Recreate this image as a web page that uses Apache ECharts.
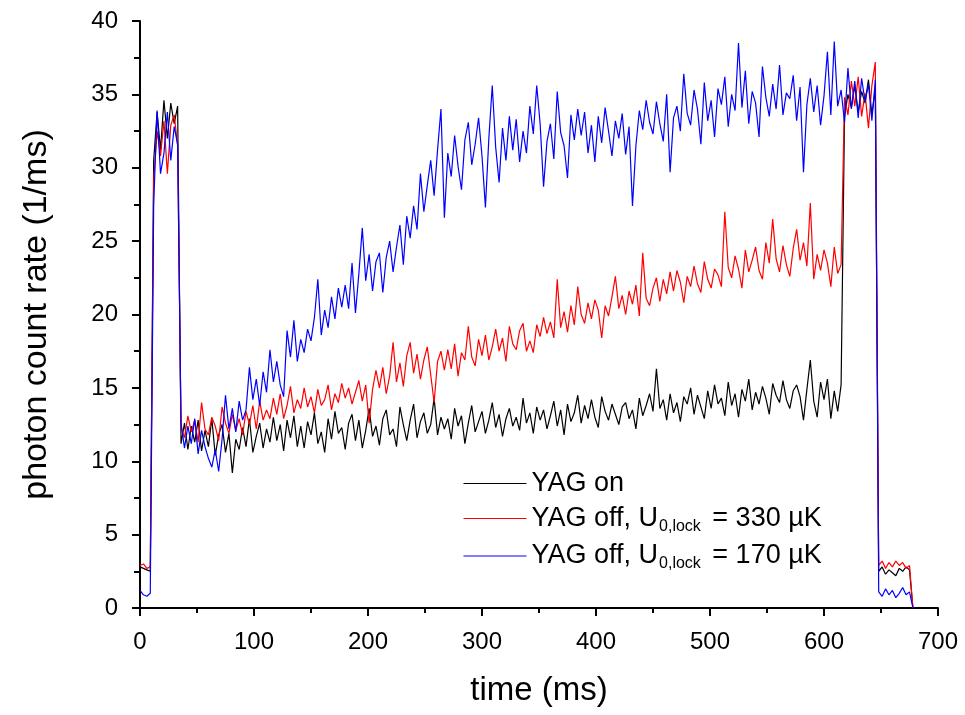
<!DOCTYPE html>
<html>
<head>
<meta charset="utf-8">
<script src="https://cdn.jsdelivr.net/npm/echarts@6/dist/echarts.min.js"></script>
<style>
  html, body { margin: 0; background: #fff; }
  #chart { width: 965px; height: 715px; }
</style>
</head>
<body>
<div id="chart"></div>
<script>
// sample times (ms)
const time = [
  0, 3, 6, 9, 12, 15, 18, 21, 24, 27,
  30, 33, 36, 39, 42, 45, 48, 51, 54, 57,
  60, 63, 66, 69, 72, 75, 78, 81, 84, 87,
  90, 93, 96, 99, 102, 105, 108, 111, 114, 117,
  120, 123, 126, 129, 132, 135, 138, 141, 144, 147,
  150, 153, 156, 159, 162, 165, 168, 171, 174, 177,
  180, 183, 186, 189, 192, 195, 198, 201, 204, 207,
  210, 213, 216, 219, 222, 225, 228, 231, 234, 237,
  240, 243, 246, 249, 252, 255, 258, 261, 264, 267,
  270, 273, 276, 279, 282, 285, 288, 291, 294, 297,
  300, 303, 306, 309, 312, 315, 318, 321, 324, 327,
  330, 333, 336, 339, 342, 345, 348, 351, 354, 357,
  360, 363, 366, 369, 372, 375, 378, 381, 384, 387,
  390, 393, 396, 399, 402, 405, 408, 411, 414, 417,
  420, 423, 426, 429, 432, 435, 438, 441, 444, 447,
  450, 453, 456, 459, 462, 465, 468, 471, 474, 477,
  480, 483, 486, 489, 492, 495, 498, 501, 504, 507,
  510, 513, 516, 519, 522, 525, 528, 531, 534, 537,
  540, 543, 546, 549, 552, 555, 558, 561, 564, 567,
  570, 573, 576, 579, 582, 585, 588, 591, 594, 597,
  600, 603, 606, 609, 612, 615, 618, 621, 624, 627,
  630, 633, 636, 639, 642, 645, 648, 651, 654, 657,
  660, 663, 666, 669, 672, 675, 678
];

// YAG on (black)
const yagOn = [
  2.8, 2.7, 2.6, 2.5, 30.5, 33.8, 31.2, 34.6, 32.0, 34.4,
  33.0, 34.2, 11.2, 12.6, 10.8, 12.4, 11.3, 12.8, 10.7, 12.1,
  11.0, 12.9, 10.4, 11.8, 12.5, 10.6, 11.9, 9.2, 11.5, 10.8,
  12.3, 11.0, 12.9, 10.6, 11.7, 12.6, 10.9, 12.2, 11.3, 13.0,
  11.4, 12.5, 10.7, 12.8, 11.6, 13.1, 11.0, 12.4, 10.9, 12.7,
  11.8, 13.3, 11.2, 12.0, 10.6, 12.9, 11.5, 13.4, 11.9, 12.3,
  10.8, 12.6, 13.2, 11.4, 12.8, 10.9, 12.1, 13.6, 11.7, 12.4,
  11.1, 12.9, 13.5, 11.8, 12.2, 11.0, 13.7, 12.5, 11.4, 12.8,
  13.9, 11.6, 12.7, 13.3, 11.9, 12.5, 14.3, 11.8, 13.0, 12.2,
  12.9, 11.5, 13.6, 12.4, 13.1, 11.2, 12.6, 13.8, 12.0, 12.7,
  13.4, 11.9, 12.8, 14.0, 12.3, 13.2, 11.7, 12.9, 13.6, 12.4,
  13.0, 12.1, 14.3, 12.6, 13.3, 11.9, 13.7, 12.8, 13.5, 12.2,
  13.1, 14.1, 12.4, 13.5, 11.8, 13.9, 12.7, 13.3, 14.5, 12.6,
  13.8, 12.9, 14.2, 13.0, 12.3, 14.4, 13.4, 12.8, 13.9, 13.2,
  12.5, 13.7, 14.0, 12.9, 13.5, 12.2, 14.3, 13.1, 13.8, 14.6,
  13.4, 16.3, 13.6, 14.2, 12.8, 14.6, 13.3, 14.0, 12.7, 14.4,
  13.9, 15.0, 13.2, 14.5, 13.7, 12.9, 14.8, 13.6, 15.2, 13.9,
  14.3, 13.1, 15.4, 13.8, 14.6, 13.0, 14.9, 14.1, 15.6, 13.5,
  14.7, 13.9, 15.1, 14.3, 13.2, 15.3, 14.5, 14.0, 15.5, 14.2,
  13.6, 14.8, 15.2, 14.4, 12.8, 14.9, 16.9, 14.1, 13.0, 15.4,
  14.2, 15.6, 12.9, 14.8, 13.4, 15.2, 33.5, 35.0, 34.1, 35.6,
  33.8, 35.2, 34.4, 36.0, 33.6, 35.4, 2.5, 2.8, 2.3, 2.6,
  2.4, 2.2, 2.7, 2.5, 2.8, 2.6, 0
];

// YAG off, U0,lock = 330 µK (red)
const yagOff330 = [
  2.9, 3.0, 2.7, 2.8, 29.2, 32.5, 30.8, 33.2, 29.6, 32.9,
  33.6, 31.5, 12.3, 11.6, 13.1, 12.0, 12.8, 11.3, 14.0, 12.2,
  11.8, 13.0, 12.4, 11.4, 13.7, 12.6, 11.9, 13.2, 12.1, 12.9,
  11.8, 13.4, 12.5, 13.8, 12.2, 14.1, 12.8, 13.5, 12.9, 14.3,
  13.2, 14.6, 12.9, 13.8, 15.1, 13.3, 14.2, 13.6, 15.0, 13.7,
  14.4, 13.3, 14.9, 13.8, 14.2, 15.2, 13.5, 14.6, 14.0, 15.3,
  14.3, 15.0, 13.9, 14.7, 15.5, 14.1, 15.2, 12.6, 14.9, 16.2,
  15.0, 16.4, 14.6, 15.8, 18.1, 15.4, 16.7, 15.1, 17.2, 18.1,
  16.0, 17.3, 15.6, 16.9, 17.8, 15.9, 14.0, 16.8, 17.5, 16.2,
  17.6, 16.3, 18.0, 15.8, 17.4, 16.9, 19.2, 17.1, 16.5, 18.3,
  17.2, 18.6, 16.9, 17.8, 19.0, 17.5, 18.4, 16.8, 19.2, 18.0,
  17.6, 18.9, 19.4, 17.5, 18.2, 17.4, 19.3, 18.5, 19.8, 18.7,
  19.5, 18.4, 22.4, 19.1, 20.2, 18.8, 20.6, 19.3, 21.9, 20.0,
  19.4, 20.8, 19.7, 21.0, 20.3, 18.4, 20.6, 19.9, 21.2, 22.6,
  20.4, 21.3, 20.0, 21.6, 20.7, 22.0, 19.9, 24.2, 21.1, 20.6,
  21.8, 22.5, 20.9, 22.4, 21.4, 22.9, 21.6, 23.0, 22.2, 20.8,
  22.6, 21.9, 23.3, 22.1, 21.5, 23.6, 22.4, 21.8, 23.1, 22.7,
  21.9, 27.0, 23.2, 22.5, 24.0, 23.1, 21.8, 24.4, 22.9, 23.7,
  24.6, 23.0, 22.4, 24.9, 23.5, 26.5, 23.8, 22.9, 24.7, 23.4,
  22.6, 24.5, 25.8, 23.7, 24.9, 23.3, 27.6, 22.4, 24.1, 23.0,
  24.4, 23.5, 21.9, 24.6, 22.8, 23.4, 34.8, 33.6, 35.9, 34.2,
  36.2, 33.5, 35.1, 32.7, 35.6, 37.2, 2.9, 3.2, 2.7, 3.1,
  2.8, 3.2, 2.9, 3.1, 2.7, 2.9, 0
];

// YAG off, U0,lock = 170 µK (blue)
const yagOff170 = [
  1.2, 0.9, 0.8, 1.0, 27.5, 33.9, 29.6, 31.0, 33.8, 30.5,
  32.8, 31.6, 12.6, 10.9, 12.4, 11.2, 12.9, 10.5, 12.1, 11.0,
  10.2, 9.6, 10.8, 9.3, 11.5, 14.5, 12.2, 13.6, 12.0, 14.1,
  12.8, 13.5, 16.4, 14.2, 15.6, 13.8, 16.1, 14.7, 17.6, 15.4,
  16.8, 15.2, 14.4, 18.9, 17.1, 19.6, 16.8, 18.3, 17.4, 19.0,
  18.2, 19.8, 22.4, 18.6, 20.3, 19.1, 21.2, 19.7, 21.8, 20.5,
  22.0, 20.4, 23.5, 20.1, 22.8, 25.9, 22.3, 24.1, 21.6, 23.6,
  24.2, 21.5, 23.9, 25.0, 22.9, 24.6, 26.1, 23.4, 26.7, 25.2,
  27.4, 25.8, 29.6, 27.0, 28.8, 30.5, 28.1, 31.2, 34.0, 26.6,
  31.0, 29.4, 32.2, 30.1, 28.5, 31.9, 33.1, 30.2, 31.6, 33.4,
  30.8, 27.3, 32.0, 35.6, 31.4, 29.0, 32.7, 30.5, 33.5, 31.2,
  33.3, 30.4, 32.5, 31.0, 34.2, 32.3, 35.6, 33.0, 28.7, 31.8,
  33.0, 30.6, 35.2, 32.4, 31.5, 29.3, 33.6, 31.9, 34.0, 32.2,
  33.8, 31.0, 32.9, 30.4, 33.5, 31.7, 34.1, 32.5, 30.8, 33.2,
  32.0, 33.7, 30.9, 32.8, 27.4, 31.5, 33.9, 32.6, 34.6, 33.1,
  32.3, 34.5, 33.0, 31.8, 35.0, 29.7, 33.4, 34.2, 32.5, 36.4,
  33.7, 32.9, 35.3, 34.0, 31.6, 35.8, 33.2, 34.6, 32.1, 35.4,
  34.3, 36.2, 32.8, 35.0, 33.9, 38.5, 34.1, 36.6, 33.0, 35.2,
  34.4, 32.1, 36.9, 34.8, 33.5, 35.7, 34.0, 37.0, 33.6, 35.1,
  34.7, 36.3, 33.2, 35.5, 29.7, 34.3, 36.1, 33.8, 35.6, 32.9,
  34.9, 37.9, 33.6, 38.6, 34.2, 35.3, 33.1, 36.8, 34.0, 35.9,
  33.4, 36.1, 34.5, 35.7, 33.2, 36.0, 1.1, 0.8, 1.3, 0.9,
  1.2, 0.7, 1.0, 1.4, 0.9, 1.1, 0
];

const seriesNames = ['YAG on', 'YAG off, U0,lock = 330 µK', 'YAG off, U0,lock = 170 µK'];
const seriesColors = ['#000000', '#ff0000', '#0000ff'];
const seriesValues = [yagOn, yagOff330, yagOff170];

const font = "'Liberation Sans', Arial, sans-serif";
const chart = echarts.init(document.getElementById('chart'));

function pairs(values) {
  return time.map((t, i) => [t, values[i]]);
}

chart.setOption({
  animation: false,
  grid: { left: 140, right: 27, top: 21, bottom: 107 },
  legend: {
    show: true,
    orient: 'vertical',
    left: 458,
    top: 465,
    itemWidth: 63,
    itemHeight: 14,
    itemGap: 8,
    itemStyle: { opacity: 0 },
    lineStyle: { width: 1 },
    data: seriesNames,
    formatter: function (name) {
      return name.replace('U0,lock', 'U{sub|0,lock}');
    },
    textStyle: {
      fontSize: 27,
      color: '#000',
      fontFamily: font,
      rich: {
        sub: { fontSize: 16, fontFamily: font, color: '#000', padding: [16, 4, 0, 1] }
      }
    }
  },
  xAxis: {
    type: 'value',
    min: 0,
    max: 700,
    interval: 100,
    name: 'time (ms)',
    nameLocation: 'middle',
    nameGap: 66,
    nameTextStyle: { fontSize: 33, color: '#000', fontFamily: font },
    axisLine: { lineStyle: { color: '#000', width: 2 } },
    axisTick: { length: 8, lineStyle: { color: '#000', width: 2 } },
    minorTick: { show: true, splitNumber: 2, length: 5, lineStyle: { color: '#000', width: 2 } },
    splitLine: { show: false },
    axisLabel: { fontSize: 24, color: '#000', margin: 22, fontFamily: font }
  },
  yAxis: {
    type: 'value',
    min: 0,
    max: 40,
    interval: 5,
    name: 'photon count rate (1/ms)',
    nameLocation: 'middle',
    nameGap: 86,
    nameTextStyle: { fontSize: 34, color: '#000', fontFamily: font },
    axisLine: { show: true, lineStyle: { color: '#000', width: 2 } },
    axisTick: { show: true, length: 8, lineStyle: { color: '#000', width: 2 } },
    minorTick: { show: true, splitNumber: 2, length: 6, lineStyle: { color: '#000', width: 2 } },
    splitLine: { show: false },
    axisLabel: { fontSize: 24, color: '#000', margin: 22, fontFamily: font }
  },
  series: seriesValues.map(function (values, i) {
    return {
      name: seriesNames[i],
      type: 'line',
      symbol: 'none',
      data: pairs(values),
      lineStyle: { color: seriesColors[i], width: 1.2 },
      itemStyle: { color: seriesColors[i] }
    };
  })
});
</script>
</body>
</html>
